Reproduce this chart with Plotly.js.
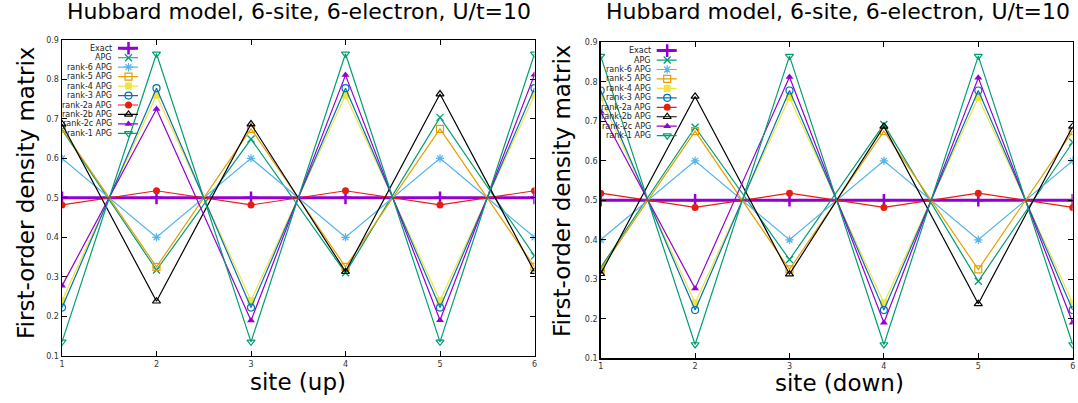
<!DOCTYPE html>
<html>
<head>
<meta charset="utf-8">
<script src="https://cdn.plot.ly/plotly-3.0.1.min.js"></script>
<style>html,body{margin:0;padding:0;background:#fff;}#plot{width:1078px;height:403px;}</style>
</head>
<body>
<div id="plot"></div>
<script>
// ---- data ----
var sites = [1, 2, 3, 4, 5, 6];
var seriesNames = ["Exact", "APG", "rank-6 APG", "rank-5 APG", "rank-4 APG", "rank-3 APG",
                   "rank-2a APG", "rank-2b APG", "rank-2c APG", "rank-1 APG"];
var chartTitle = "Hubbard model, 6-site, 6-electron, U/t=10";
var yTitle = "First-order density matrix";
var xTitleUp = "site (up)";
var xTitleDown = "site (down)";

// spin-up occupations
var exactUp  = [0.5, 0.5, 0.5, 0.5, 0.5, 0.5];
var apgUp    = [0.673, 0.317, 0.649, 0.310, 0.704, 0.353];
var rank6Up  = [0.600, 0.400, 0.600, 0.400, 0.600, 0.400];
var rank5Up  = [0.675, 0.325, 0.675, 0.325, 0.675, 0.325];
var rank4Up  = [0.240, 0.760, 0.240, 0.760, 0.240, 0.760];
var rank3Up  = [0.222, 0.778, 0.222, 0.778, 0.222, 0.778];
var rank2aUp = [0.482, 0.518, 0.482, 0.518, 0.482, 0.518];
var rank2bUp = [0.687, 0.238, 0.687, 0.313, 0.763, 0.313];
var rank2cUp = [0.277, 0.725, 0.189, 0.811, 0.190, 0.812];
var rank1Up  = [0.135, 0.865, 0.135, 0.865, 0.135, 0.865];

// spin-down occupations
var exactDown  = [0.5, 0.5, 0.5, 0.5, 0.5, 0.5];
var apgDown    = [0.330, 0.685, 0.350, 0.692, 0.295, 0.647];
var rank6Down  = [0.400, 0.600, 0.400, 0.600, 0.400, 0.600];
var rank5Down  = [0.325, 0.675, 0.325, 0.675, 0.325, 0.675];
var rank4Down  = [0.760, 0.240, 0.760, 0.240, 0.760, 0.240];
var rank3Down  = [0.778, 0.222, 0.778, 0.222, 0.778, 0.222];
var rank2aDown = [0.518, 0.482, 0.518, 0.482, 0.518, 0.482];
var rank2bDown = [0.314, 0.763, 0.313, 0.687, 0.238, 0.687];
var rank2cDown = [0.724, 0.277, 0.812, 0.190, 0.810, 0.190];
var rank1Down  = [0.865, 0.135, 0.865, 0.135, 0.865, 0.135];

var upData = [exactUp, apgUp, rank6Up, rank5Up, rank4Up, rank3Up, rank2aUp, rank2bUp, rank2cUp, rank1Up];
var downData = [exactDown, apgDown, rank6Down, rank5Down, rank4Down, rank3Down, rank2aDown, rank2bDown, rank2cDown, rank1Down];

// ---- styles ----
var styles = [
  {color: "#9400d3", symbol: "cross-thin-open", size: 9, lw: 3, mlw: 2.5},
  {color: "#009e73", symbol: "x-thin-open", size: 7, lw: 1.2, mlw: 1.3},
  {color: "#56b4e9", symbol: "asterisk-open", size: 7, lw: 1.2, mlw: 1.2},
  {color: "#e69f00", symbol: "square-open", size: 7, lw: 1.2, mlw: 1.2},
  {color: "#f0e442", symbol: "square", size: 7, lw: 1.2, mlw: 0},
  {color: "#0072b2", symbol: "circle-open", size: 7, lw: 1.2, mlw: 1.2},
  {color: "#e51e10", symbol: "circle", size: 7, lw: 1.2, mlw: 0},
  {color: "#000000", symbol: "triangle-up-open", size: 7, lw: 1.2, mlw: 1.2},
  {color: "#9400d3", symbol: "triangle-up", size: 7, lw: 1.2, mlw: 0},
  {color: "#009e73", symbol: "triangle-down-open", size: 7, lw: 1.2, mlw: 1.2}
];

function mk(st) {
  return {symbol: st.symbol, size: st.size, color: st.color,
          line: {color: st.color, width: st.mlw}};
}

var W = 1078, H = 403;
// plot boxes in px
var boxL = {x0: 62, x1: 534.5, y0: 40, y1: 355.7};
var boxR = {x0: 600.7, x1: 1072.7, y0: 42.3, y1: 358.3};

var traces = [];
upData.forEach(function (d, i) {
  var st = styles[i];
  traces.push({x: sites, y: d, xaxis: "x", yaxis: "y", mode: "lines+markers",
    name: seriesNames[i], showlegend: false,
    line: {color: st.color, width: st.lw}, marker: mk(st)});
});
downData.forEach(function (d, i) {
  var st = styles[i];
  traces.push({x: sites, y: d, xaxis: "x2", yaxis: "y2", mode: "lines+markers",
    name: seriesNames[i], showlegend: false,
    line: {color: st.color, width: st.lw}, marker: mk(st)});
});

// custom gnuplot-style key (text right, sample on the right)
var annotations = [];
function addKey(xa, ya) {
  seriesNames.forEach(function (nm, i) {
    var st = styles[i];
    var yy = 8.3 + i * 9.45;
    traces.push({x: [56, 76], y: [yy, yy], xaxis: xa, yaxis: ya, mode: "lines",
      showlegend: false, hoverinfo: "skip",
      line: {color: st.color, width: st.lw}});
    traces.push({x: [66.5], y: [yy], xaxis: xa, yaxis: ya, mode: "markers",
      showlegend: false, hoverinfo: "skip", marker: mk(st)});
    annotations.push({xref: xa, yref: ya, x: 52, y: yy, text: nm, showarrow: false,
      xanchor: "right", yanchor: "middle",
      font: {family: "DejaVu Sans", size: 8, color: "#222"}});
  });
}
addKey("x3", "y3");
addKey("x4", "y4");

function ax(extra) {
  var a = {showline: true, linecolor: "#000", linewidth: 1.5, mirror: "ticks",
    ticks: "inside", ticklen: 5, tickwidth: 1, tickcolor: "#000",
    showgrid: false, zeroline: false,
    tickfont: {family: "DejaVu Sans", size: 8, color: "#333"}};
  for (var k in extra) a[k] = extra[k];
  return a;
}

var dxL = [boxL.x0 / W, boxL.x1 / W], dyL = [1 - boxL.y1 / H, 1 - boxL.y0 / H];
var dxR = [boxR.x0 / W, boxR.x1 / W], dyR = [1 - boxR.y1 / H, 1 - boxR.y0 / H];

// titles
annotations.push({xref: "paper", yref: "paper", x: 299 / W, y: 1 - 11 / H, text: chartTitle,
  showarrow: false, xanchor: "center", yanchor: "middle",
  font: {family: "DejaVu Sans", size: 22, color: "#000"}});
annotations.push({xref: "paper", yref: "paper", x: 838 / W, y: 1 - 12 / H, text: chartTitle,
  showarrow: false, xanchor: "center", yanchor: "middle",
  font: {family: "DejaVu Sans", size: 22, color: "#000"}});
annotations.push({xref: "paper", yref: "paper", x: 298 / W, y: 1 - 382 / H, text: xTitleUp,
  showarrow: false, xanchor: "center", yanchor: "middle",
  font: {family: "DejaVu Sans", size: 23, color: "#000"}});
annotations.push({xref: "paper", yref: "paper", x: 839 / W, y: 1 - 383 / H, text: xTitleDown,
  showarrow: false, xanchor: "center", yanchor: "middle",
  font: {family: "DejaVu Sans", size: 23, color: "#000"}});
annotations.push({xref: "paper", yref: "paper", x: 26 / W, y: 1 - 193 / H, text: yTitle,
  showarrow: false, textangle: -90, xanchor: "center", yanchor: "middle",
  font: {family: "DejaVu Sans", size: 23, color: "#000"}});
annotations.push({xref: "paper", yref: "paper", x: 562 / W, y: 1 - 191 / H, text: yTitle,
  showarrow: false, textangle: -90, xanchor: "center", yanchor: "middle",
  font: {family: "DejaVu Sans", size: 23, color: "#000"}});

var layout = {
  width: W, height: H, margin: {l: 0, r: 0, t: 0, b: 0},
  paper_bgcolor: "#fff", plot_bgcolor: "rgba(0,0,0,0)",
  showlegend: false,
  xaxis: ax({domain: dxL, range: [1, 6], tickvals: sites, anchor: "y"}),
  yaxis: ax({domain: dyL, range: [0.1, 0.9], dtick: 0.1, tick0: 0.1, tickformat: ".1f", anchor: "x"}),
  xaxis2: ax({domain: dxR, range: [1, 6], tickvals: sites, anchor: "y2"}),
  yaxis2: ax({domain: dyR, range: [0.1, 0.9], dtick: 0.1, tick0: 0.1, tickformat: ".1f", anchor: "x2"}),
  xaxis3: {domain: dxL, range: [0, boxL.x1 - boxL.x0], visible: false, anchor: "y3", fixedrange: true},
  yaxis3: {domain: dyL, range: [boxL.y1 - boxL.y0, 0], visible: false, anchor: "x3", fixedrange: true},
  xaxis4: {domain: dxR, range: [0, boxR.x1 - boxR.x0], visible: false, anchor: "y4", fixedrange: true},
  yaxis4: {domain: dyR, range: [boxR.y1 - boxR.y0, 0], visible: false, anchor: "x4", fixedrange: true},
  annotations: annotations
};

Plotly.newPlot("plot", traces, layout, {displayModeBar: false, staticPlot: true});
</script>
</body>
</html>
